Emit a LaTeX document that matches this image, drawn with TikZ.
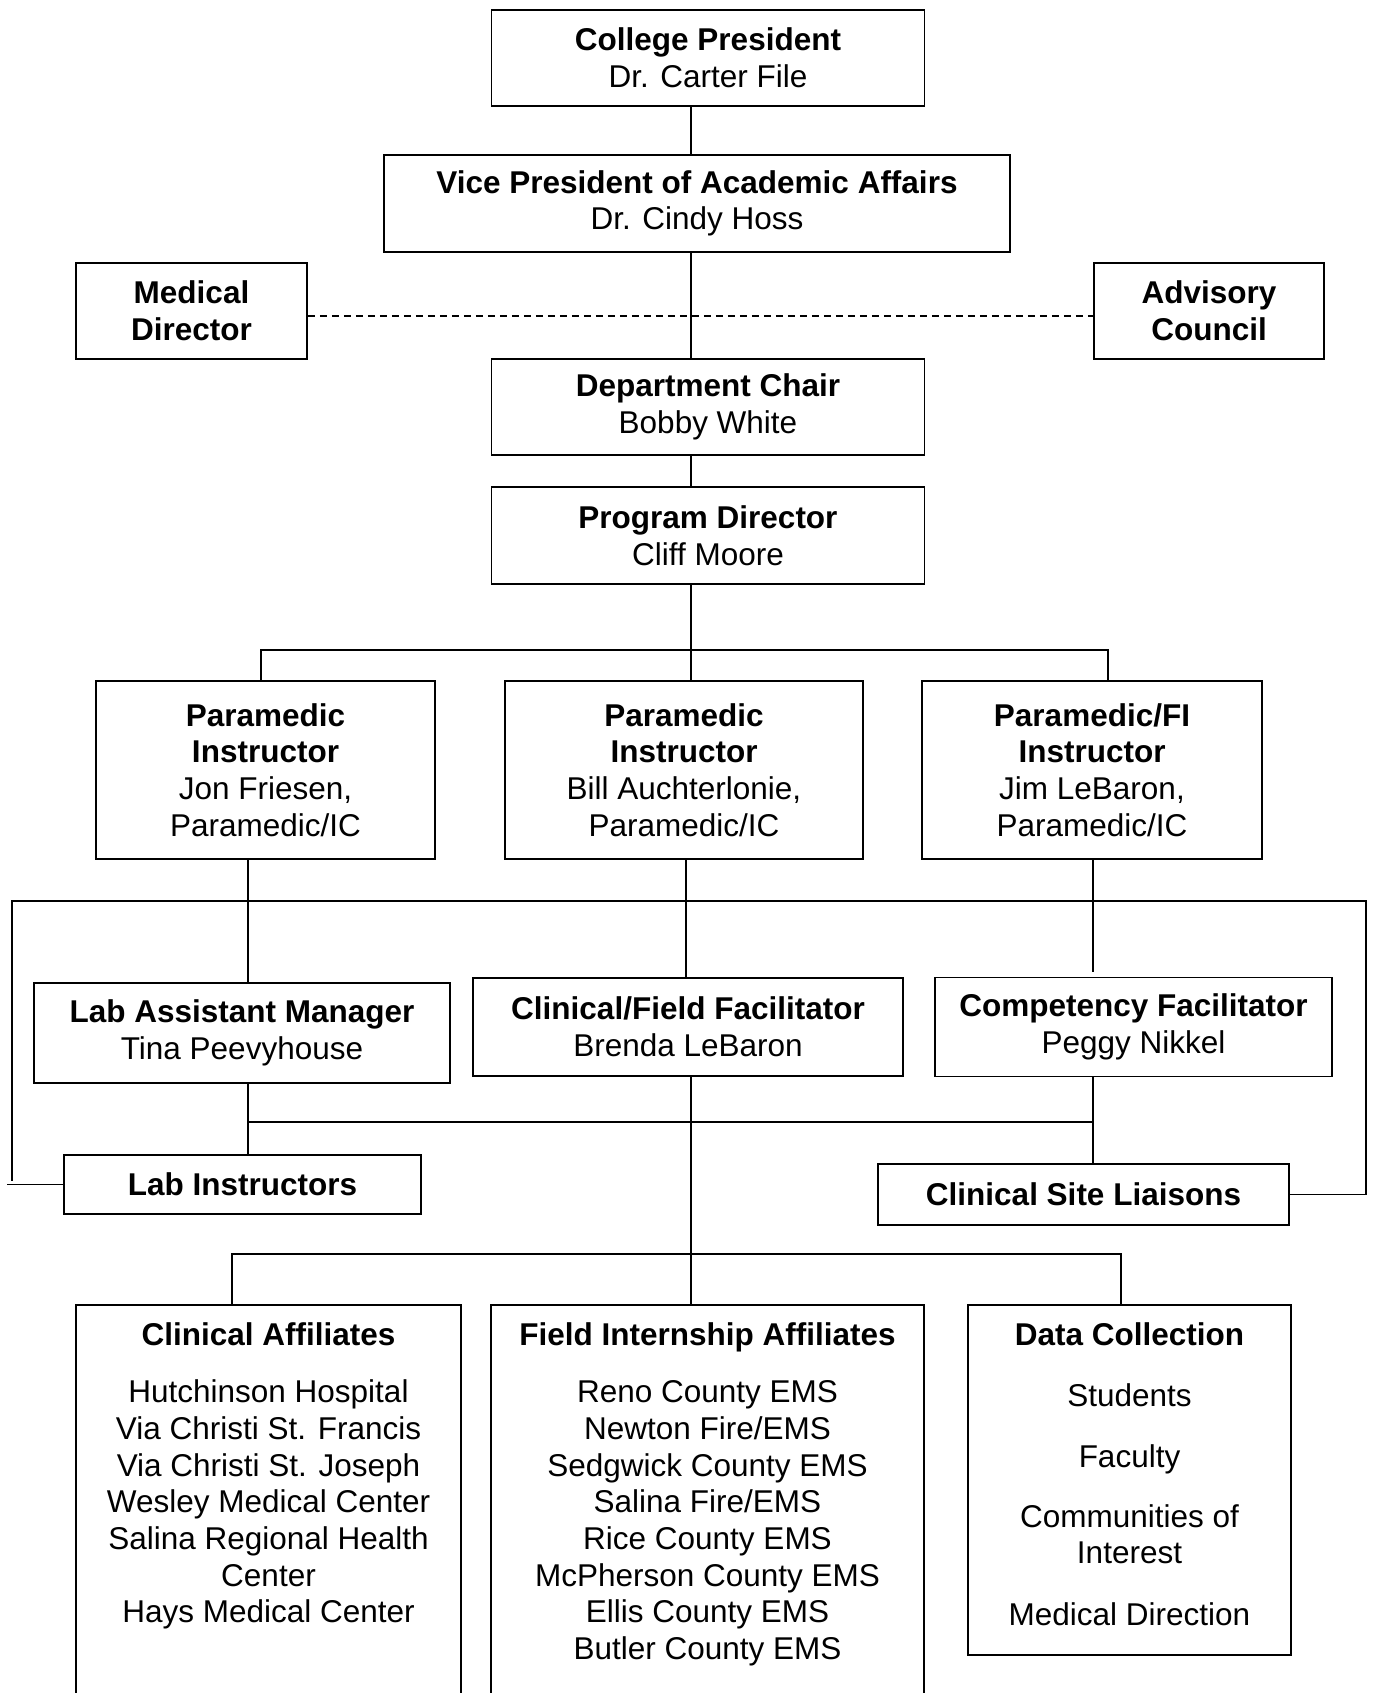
\documentclass[tikz,border=0pt]{standalone}
\usepackage{fontspec}
\setmainfont{Liberation Sans}

\begin{document}
\begin{tikzpicture}[x=1pt,y=1pt,yscale=-1,
  box/.style={draw, line width=1.8, inner sep=0pt, align=center, font=\fontsize{31.5}{36.7}\selectfont},
  txt/.style={inner sep=0pt, align=center, anchor=north, font=\fontsize{31.5}{36.7}\selectfont},
  link/.style={line width=1.8}]
\useasboundingbox (0,0) rectangle (1374,1693);
\clip (0,0) rectangle (1374,1693);

%x positions of the connectors
\coordinate (spine) at (691,0);
\coordinate (dropA) at (261,0);
\coordinate (dropB) at (1108,0);
\coordinate (dropL) at (248,0);
\coordinate (dropM) at (686,0);
\coordinate (dropR) at (1093,0);
\coordinate (dropC) at (691,0);
\coordinate (dropCA) at (232,0);
\coordinate (dropDC) at (1121,0);
\coordinate (tick) at (7,0);
%bus lines
\coordinate (pbus) at (691,650);
\coordinate (lbusL) at (12,901);
\coordinate (lbusR) at (1366,901);
\coordinate (cbus) at (0,1122);
\coordinate (dbus) at (691,1254);
\coordinate (cmpTop) at (1093,972);

%Shape: Rectangle [top]
\node[box, minimum width=433pt, minimum height=96pt] (pres) at (708,58) {\textbf{College President}\\Dr. Carter File};
\node[box, minimum width=626pt, minimum height=97pt] (vp) at (697,203.5) {\textbf{Vice President of Academic Affairs}\\Dr. Cindy Hoss};
\node[box, minimum width=231pt, minimum height=96pt] (med) at (191.5,311) {\textbf{Medical}\\\textbf{Director}};
\node[box, minimum width=230pt, minimum height=96pt] (adv) at (1209,311) {\textbf{Advisory}\\\textbf{Council}};
\node[box, minimum width=433pt, minimum height=96pt] (chair) at (708,407) {\textbf{Department Chair}\\Bobby White};
\node[box, minimum width=433pt, minimum height=97pt] (pd) at (708,535.5) {\textbf{Program Director}\\Cliff Moore};

%Shape: Rectangle [instructors]
\node[box, minimum width=339pt, minimum height=178pt] (p1) at (265.5,770) {\textbf{Paramedic}\\\textbf{Instructor}\\Jon Friesen,\\Paramedic/IC};
\node[box, minimum width=358pt, minimum height=178pt] (p2) at (684,770) {\textbf{Paramedic}\\\textbf{Instructor}\\Bill Auchterlonie,\\Paramedic/IC};
\node[box, minimum width=340pt, minimum height=178pt] (p3) at (1092,770) {\textbf{Paramedic/FI}\\\textbf{Instructor}\\Jim LeBaron,\\Paramedic/IC};

%Shape: Rectangle [facilitators]
\node[box, minimum width=416pt, minimum height=100pt] (lam) at (242,1033) {\textbf{Lab Assistant Manager}\\Tina Peevyhouse};
\node[box, minimum width=430pt, minimum height=98pt] (cff) at (688,1027) {\textbf{Clinical/Field Facilitator}\\Brenda LeBaron};
\node[box, minimum width=397pt, minimum height=99pt] (cmp) at (1133.5,1027) {\textbf{Competency Facilitator}\\Peggy Nikkel};
\node[box, minimum width=357pt, minimum height=59pt] (labi) at (242.5,1184.5) {\textbf{Lab Instructors}};
\node[box, minimum width=411pt, minimum height=61pt] (csl) at (1083.5,1194.5) {\textbf{Clinical Site Liaisons}};

%Shape: Rectangle [affiliates]
\node[box, minimum width=385pt, minimum height=400pt] (cla) at (268.5,1505) {};
\node[box, minimum width=433pt, minimum height=400pt] (fia) at (707.5,1505) {};
\node[box, minimum width=323pt, minimum height=350pt] (dat) at (1129.5,1480) {};
\node[txt] (claTxt) at (268.5,1322) {\textbf{Clinical Affiliates}\\[21pt]Hutchinson Hospital\\Via Christi St. Francis\\Via Christi St. Joseph\\Wesley Medical Center\\Salina Regional Health\\Center\\Hays Medical Center};
\node[txt] (fiaTxt) at (707.5,1322) {\textbf{Field Internship Affiliates}\\[21pt]Reno County EMS\\Newton Fire/EMS\\Sedgwick County EMS\\Salina Fire/EMS\\Rice County EMS\\McPherson County EMS\\Ellis County EMS\\Butler County EMS};
\node[txt] (datTxt) at (1129.5,1322) {\textbf{Data Collection}\\[25pt]Students\\[24pt]Faculty\\[23pt]Communities of\\Interest\\[25pt]Medical Direction};

%Straight Lines [chain of command]
\foreach \a/\b in {pres/vp, vp/chair, chair/pd, pd/p2}
  \draw[link] (\a.south -| spine) -- (\b.north -| spine);
\draw[line width=1.5, dash pattern=on 7pt off 5pt] (med.east |- 0,316) -- (adv.west |- 0,316);
\draw[link] (p1.north -| dropA) |- (pbus) -| (p3.north -| dropB);

%Straight Lines [instructors to facilitators]
\draw[link] (p1.south -| dropL) -- (lam.north -| dropL);
\draw[link] (p2.south -| dropM) -- (cff.north -| dropM);
\draw[link] (p3.south -| dropR) -- (cmpTop);
\draw[link] (labi.west -| tick) -- (labi.west);
\draw[link] ([yshift=-4pt]labi.west -| lbusL) -- (lbusL) -- (lbusR) |- (csl.east);

%Straight Lines [facilitators down]
\draw[link] (lam.south -| dropL) -- (labi.north -| dropL);
\draw[link] (cmp.south -| dropR) -- (csl.north -| dropR);
\draw[link] (cbus -| dropL) -- (cbus -| dropR);
\draw[link] (cff.south -| dropC) -- (fia.north -| dropC);
\draw[link] (cla.north -| dropCA) |- (dbus) -| (dat.north -| dropDC);

\end{tikzpicture}
\end{document}
